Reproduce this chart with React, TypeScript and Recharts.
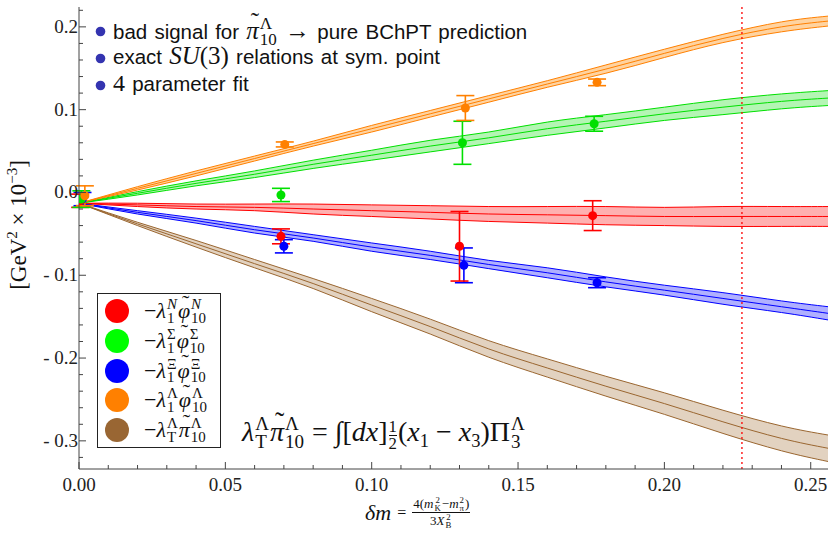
import { ComposedChart, Area, Line, Scatter, ErrorBar, XAxis, YAxis, ReferenceLine } from "recharts"

// sampled curve positions (delta m)
const xs = [0, 0.02, 0.04, 0.06, 0.08, 0.1, 0.12, 0.14, 0.16, 0.18, 0.2, 0.22, 0.24, 0.256]

// central values and half-widths of the bands
const orange = [-0.013, 0.005, 0.023, 0.041, 0.059, 0.077, 0.095, 0.113, 0.131, 0.149, 0.168, 0.186, 0.2, 0.207]
const orangeW = [0, 0.002, 0.003, 0.003, 0.003, 0.004, 0.004, 0.004, 0.004, 0.005, 0.005, 0.005, 0.006, 0.006]
const green = [-0.013, -0.001, 0.011, 0.022, 0.034, 0.045, 0.056, 0.066, 0.077, 0.086, 0.095, 0.103, 0.11, 0.114]
const greenW = [0, 0.002, 0.003, 0.004, 0.005, 0.006, 0.007, 0.007, 0.008, 0.008, 0.008, 0.009, 0.009, 0.009]
const red = [-0.013, -0.015, -0.017, -0.018, -0.02, -0.022, -0.024, -0.026, -0.027, -0.028, -0.029, -0.029, -0.029, -0.029]
const redW = [0, 0.002, 0.003, 0.004, 0.006, 0.007, 0.008, 0.009, 0.01, 0.011, 0.011, 0.012, 0.012, 0.012]
const blue = [-0.013, -0.024, -0.034, -0.045, -0.055, -0.066, -0.076, -0.087, -0.097, -0.108, -0.118, -0.128, -0.138, -0.146]
const blueW = [0, 0.002, 0.003, 0.004, 0.004, 0.005, 0.005, 0.005, 0.006, 0.006, 0.006, 0.007, 0.007, 0.008]
const brown = [-0.013, -0.038, -0.062, -0.086, -0.11, -0.136, -0.162, -0.189, -0.212, -0.234, -0.255, -0.277, -0.297, -0.309]
const brownW = [0, 0.002, 0.004, 0.005, 0.006, 0.008, 0.009, 0.01, 0.011, 0.012, 0.013, 0.014, 0.015, 0.016]

// lattice points: x, value, error
const orangePts = [
  { x: 0.002, y: -0.004, e: 0.012 },
  { x: 0.0703, y: 0.058, e: 0.003 },
  { x: 0.132, y: 0.102, e: 0.015 },
  { x: 0.177, y: 0.133, e: 0.004 },
]
const greenPts = [
  { x: 0.0008, y: -0.008, e: 0.01 },
  { x: 0.069, y: -0.003, e: 0.008 },
  { x: 0.131, y: 0.06, e: 0.026 },
  { x: 0.176, y: 0.083, e: 0.009 },
]
const redPts = [
  { x: 0.0004, y: -0.01, e: 0.008 },
  { x: 0.069, y: -0.053, e: 0.009 },
  { x: 0.13, y: -0.065, e: 0.042 },
  { x: 0.1755, y: -0.028, e: 0.018 },
]
const bluePts = [
  { x: 0.0012, y: -0.008, e: 0.008 },
  { x: 0.07, y: -0.065, e: 0.008 },
  { x: 0.1315, y: -0.088, e: 0.021 },
  { x: 0.177, y: -0.109, e: 0.006 },
]

const xTicks = [0, 0.01, 0.02, 0.03, 0.04, 0.05, 0.06, 0.07, 0.08, 0.09, 0.1, 0.11, 0.12, 0.13, 0.14, 0.15, 0.16, 0.17, 0.18, 0.19, 0.2, 0.21, 0.22, 0.23, 0.24, 0.25]
const yTicks = [-0.32, -0.3, -0.28, -0.26, -0.24, -0.22, -0.2, -0.18, -0.16, -0.14, -0.12, -0.1, -0.08, -0.06, -0.04, -0.02, 0, 0.02, 0.04, 0.06, 0.08, 0.1, 0.12, 0.14, 0.16, 0.18, 0.2, 0.22]
const symPoint = 0.2265

const band = (c: number[], w: number[], i: number) => [c[i] - w[i], c[i] + w[i]]

const curveData = xs.map((x, i) => ({
  x,
  orange: orange[i],
  orangeBand: band(orange, orangeW, i),
  green: green[i],
  greenBand: band(green, greenW, i),
  red: red[i],
  redBand: band(red, redW, i),
  blue: blue[i],
  blueBand: band(blue, blueW, i),
  brown: brown[i],
  brownBand: band(brown, brownW, i),
}))

const series = [
  { key: "brown", line: "#9a6630", fill: "#e2d2c0", dot: "#9a6630", pts: [] as { x: number; y: number; e: number }[] },
  { key: "blue", line: "#0000ff", fill: "#b0b0ff", dot: "#0000ff", pts: bluePts },
  { key: "red", line: "#ff0000", fill: "#ffb0b0", dot: "#ff0000", pts: redPts },
  { key: "green", line: "#00e000", fill: "#b4f5b4", dot: "#00e000", pts: greenPts },
  { key: "orange", line: "#ff8000", fill: "#ffd3a0", dot: "#ff8000", pts: orangePts },
]

const serif = '"Liberation Serif", "DejaVu Serif", serif'
const sans = '"Liberation Sans", "DejaVu Sans", sans-serif'
const frame = "#444"

const isMajor = (v: number, step: number) => Math.abs(v / step - Math.round(v / step)) < 1e-6

function BottomTick(props: any) {
  const { x, y, payload } = props
  const major = isMajor(payload.value, 0.05)
  return (
    <g>
      <line x1={x} y1={y} x2={x} y2={y - (major ? 7 : 4)} stroke={frame} />
      {major && (
        <text x={x} y={y + 22} textAnchor="middle" fontFamily={serif} fontSize={19} fill="#222">
          {payload.value.toFixed(2)}
        </text>
      )}
    </g>
  )
}

function TopTick(props: any) {
  const { x, y, payload } = props
  const major = isMajor(payload.value, 0.05)
  return <line x1={x} y1={y} x2={x} y2={y + (major ? 7 : 4)} stroke={frame} />
}

function LeftTick(props: any) {
  const { x, y, payload } = props
  const v = payload.value
  const major = isMajor(v, 0.1)
  const label = v < -1e-9 ? "- " + Math.abs(v).toFixed(1) : Math.abs(v).toFixed(1)
  return (
    <g>
      <line x1={x} y1={y} x2={x + (major ? 7 : 4)} y2={y} stroke={frame} />
      {major && (
        <text x={x - 1} y={y + 6} textAnchor="end" fontFamily={serif} fontSize={19} fill="#222">
          {label}
        </text>
      )}
    </g>
  )
}

function RightTick(props: any) {
  const { x, y, payload } = props
  const major = isMajor(payload.value, 0.1)
  return <line x1={x} y1={y} x2={x - (major ? 7 : 4)} y2={y} stroke={frame} />
}

// stacked superscript / subscript
function SS({ sup, sub, up }: { sup: string; sub: string; up?: boolean }) {
  return (
    <span
      style={{
        display: "inline-flex",
        flexDirection: "column",
        fontSize: "0.68em",
        lineHeight: 0.92,
        verticalAlign: "0.6em",
        marginLeft: 1,
        marginRight: 1,
      }}
    >
      <span style={{ fontStyle: up ? "normal" : "italic" }}>{sup}</span>
      <span style={{ fontStyle: "normal" }}>{sub}</span>
    </span>
  )
}

// letter with a tilde above
function Tl({ ch }: { ch: string }) {
  return (
    <span style={{ position: "relative", display: "inline-block" }}>
      {ch}
      <span style={{ position: "absolute", left: "0.18em", top: "-0.38em", fontStyle: "normal" }}>˜</span>
    </span>
  )
}

const legendItems = [
  { color: "#ff0000", s1: "N", b1: "1", sym: "φ", s2: "N", up: false },
  { color: "#00ff00", s1: "Σ", b1: "1", sym: "φ", s2: "Σ", up: true },
  { color: "#0000ff", s1: "Ξ", b1: "1", sym: "φ", s2: "Ξ", up: true },
  { color: "#ff8000", s1: "Λ", b1: "1", sym: "φ", s2: "Λ", up: true },
  { color: "#996633", s1: "Λ", b1: "T", sym: "π", s2: "Λ", up: true },
]

const notes = ["bad signal for", "exact", "4 parameter fit"]

export default function App() {
  return (
    <div style={{ position: "absolute", left: 0, top: 0, width: 832, height: 535, background: "#fff" }}>
      <ComposedChart width={832} height={535} data={curveData} margin={{ top: 7, right: 4, bottom: 0, left: 0 }}>
        <XAxis
          dataKey="x"
          type="number"
          domain={[0, 0.2559]}
          ticks={xTicks}
          interval={0}
          height={66}
          tickSize={0}
          tickMargin={0}
          tickLine={false}
          axisLine={{ stroke: frame }}
          tick={<BottomTick />}
          allowDataOverflow
        />
        <XAxis
          xAxisId="top"
          dataKey="x"
          type="number"
          orientation="top"
          domain={[0, 0.2559]}
          ticks={xTicks}
          interval={0}
          height={0}
          tickSize={0}
          tickMargin={0}
          tickLine={false}
          axisLine={{ stroke: frame }}
          tick={<TopTick />}
          allowDataOverflow
        />
        <YAxis
          dataKey="y"
          type="number"
          domain={[-0.334, 0.224]}
          ticks={yTicks}
          interval={0}
          width={79}
          tickSize={0}
          tickMargin={0}
          tickLine={false}
          axisLine={{ stroke: frame }}
          tick={<LeftTick />}
          allowDataOverflow
        />
        <YAxis
          yAxisId="right"
          type="number"
          orientation="right"
          domain={[-0.334, 0.224]}
          ticks={yTicks}
          interval={0}
          width={0}
          tickSize={0}
          tickMargin={0}
          tickLine={false}
          axisLine={{ stroke: "#888" }}
          tick={<RightTick />}
          allowDataOverflow
        />
        {series.map((s) => (
          <Area
            key={s.key + "-band"}
            type="natural"
            dataKey={s.key + "Band"}
            stroke={s.line}
            strokeWidth={1}
            fill={s.fill}
            fillOpacity={1}
            dot={false}
            activeDot={false}
            isAnimationActive={false}
          />
        ))}
        {series.map((s) => (
          <Line
            key={s.key + "-line"}
            type="natural"
            dataKey={s.key}
            stroke={s.line}
            strokeWidth={1}
            dot={false}
            activeDot={false}
            isAnimationActive={false}
          />
        ))}
        <ReferenceLine x={symPoint} stroke="#ff0000" strokeDasharray="2 3" strokeWidth={1.3} />
        {series
          .filter((s) => s.pts.length > 0)
          .map((s) => (
            <Scatter
              key={s.key + "-pts"}
              data={s.pts}
              dataKey="y"
              fill={s.dot}
              isAnimationActive={false}
              shape={(p: any) => <circle cx={p.cx} cy={p.cy} r={4.5} fill={s.dot} />}
            >
              <ErrorBar dataKey="e" direction="y" width={9} stroke={s.dot} strokeWidth={1.6} />
            </Scatter>
          ))}
      </ComposedChart>

      {/* notes */}
      {notes.map((n, i) => (
        <div key={i} style={{ position: "absolute", left: 95, top: 16 + i * 27, height: 26 }}>
          <svg width={12} height={12} style={{ position: "absolute", left: 0, top: 10 }}>
            <circle cx={5.5} cy={5.5} r={4.8} fill="#3434b0" />
          </svg>
          <div style={{ position: "absolute", left: 18, top: 0, whiteSpace: "nowrap", fontFamily: sans, fontSize: 20.5, lineHeight: "26px", color: "#111", wordSpacing: 1.5 }}>
            {i === 0 && (
              <>
                {n}{" "}
                <span style={{ fontFamily: serif, fontStyle: "italic", fontSize: 25 }}>
                  <Tl ch="π" />
                  <SS sup="Λ" sub="10" up />
                </span>{" "}
                <span style={{ fontFamily: serif, fontSize: 25 }}>→</span> pure BChPT prediction
              </>
            )}
            {i === 1 && (
              <>
                {n} <span style={{ fontFamily: serif, fontStyle: "italic", fontSize: 25 }}>SU</span>
                <span style={{ fontFamily: serif, fontSize: 25 }}>(3)</span> relations at sym. point
              </>
            )}
            {i === 2 && (
              <>
                <span style={{ fontFamily: serif, fontSize: 24 }}>4</span> parameter fit
              </>
            )}
          </div>
        </div>
      ))}

      {/* legend */}
      <div
        style={{
          position: "absolute",
          left: 97,
          top: 293,
          width: 122,
          height: 153,
          border: "1px solid #222",
          background: "#fff",
        }}
      >
        {legendItems.map((it, i) => (
          <div key={i} style={{ position: "absolute", left: 0, top: 4 + i * 29.8, height: 30, width: 122 }}>
            <svg width={26} height={26} style={{ position: "absolute", left: 6, top: 0 }}>
              <circle cx={13} cy={13} r={12} fill={it.color} />
            </svg>
            <div style={{ position: "absolute", left: 46, top: 0, whiteSpace: "nowrap", fontFamily: serif, fontSize: 22, fontStyle: "italic", lineHeight: "24px", color: "#111" }}>
              <span style={{ fontStyle: "normal" }}>−</span>λ
              <SS sup={it.s1} sub={it.b1} up={it.up} />
              <Tl ch={it.sym} />
              <SS sup={it.s2} sub="10" up={it.up} />
            </div>
          </div>
        ))}
      </div>

      {/* formula */}
      <div style={{ position: "absolute", left: 242, top: 415, whiteSpace: "nowrap", fontFamily: serif, fontSize: 28, fontStyle: "italic", lineHeight: "32px", color: "#111" }}>
        λ<SS sup="Λ" sub="T" up />
        <Tl ch="π" />
        <SS sup="Λ" sub="10" up />
        <span style={{ fontStyle: "normal" }}> = ∫[</span>dx<span style={{ fontStyle: "normal" }}>]</span>
        <span style={{ display: "inline-flex", flexDirection: "column", fontStyle: "normal", fontSize: "0.6em", lineHeight: 0.95, verticalAlign: "0.55em", textAlign: "center", margin: "0 1px" }}>
          <span style={{ borderBottom: "1px solid #111" }}>1</span>
          <span>2</span>
        </span>
        <span style={{ fontStyle: "normal" }}>(</span>x<span style={{ fontStyle: "normal", fontSize: "0.66em", verticalAlign: "-0.3em" }}>1</span>
        <span style={{ fontStyle: "normal" }}> − </span>x<span style={{ fontStyle: "normal", fontSize: "0.66em", verticalAlign: "-0.3em" }}>3</span>
        <span style={{ fontStyle: "normal" }}>)Π</span>
        <SS sup="Λ" sub="3" up />
      </div>

      {/* y axis label */}
      <div
        style={{
          position: "absolute",
          left: 18,
          top: 225,
          transform: "translate(-50%, -50%) rotate(-90deg)",
          whiteSpace: "nowrap",
          fontFamily: serif,
          fontSize: 23,
          color: "#111",
        }}
      >
        [GeV<sup style={{ fontSize: "0.65em" }}>2</sup> × 10<sup style={{ fontSize: "0.65em" }}>−3</sup>]
      </div>

      {/* x axis label */}
      <div style={{ position: "absolute", left: 365, top: 496, whiteSpace: "nowrap", fontFamily: serif, fontSize: 22, color: "#111", display: "flex", alignItems: "center" }}>
        <span style={{ fontStyle: "italic" }}>δm</span>
        <span style={{ fontSize: 16, margin: "0 6px" }}>=</span>
        <span style={{ display: "inline-flex", flexDirection: "column", fontSize: 13, lineHeight: 1.05, textAlign: "center" }}>
          <span style={{ borderBottom: "1px solid #111", padding: "0 1px" }}>
            4(<i>m</i>
            <SS sup="2" sub="K" up />−<i>m</i>
            <SS sup="2" sub="π" up />)
          </span>
          <span>
            3<i>X</i>
            <SS sup="2" sub="B" up />
          </span>
        </span>
      </div>
    </div>
  )
}
